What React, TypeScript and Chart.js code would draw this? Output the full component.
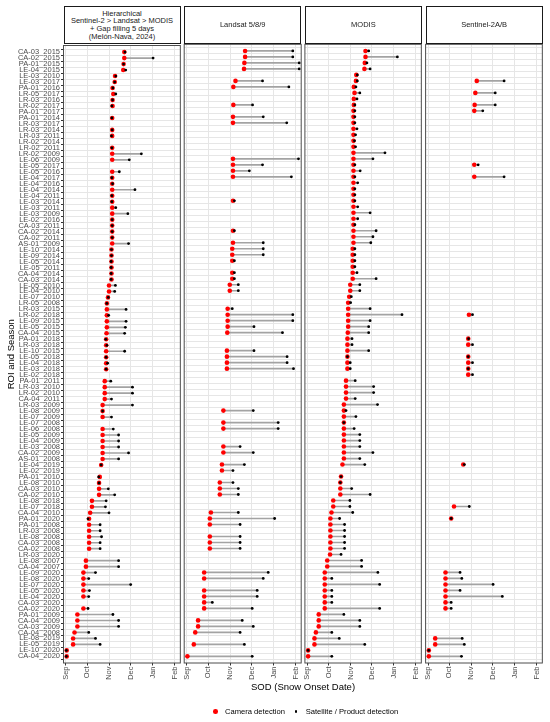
import React, { useEffect, useRef } from "react";
import { Chart, registerables } from "chart.js";

Chart.register(...registerables);

const FONT = "'Liberation Sans', Arial, Helvetica, sans-serif";

// ROI and season, top to bottom
const rowLabels = [
  "CA-03_2015", "CA-02_2015", "PA-01_2015", "LE-04_2015", "LE-03_2010", "LE-03_2017", "PA-01_2016", "LR-05_2017",
  "LR-03_2016", "LR-02_2017", "PA-01_2017", "PA-01_2014", "LR-03_2017", "LR-03_2014", "LR-03_2011", "LR-02_2014",
  "LR-02_2011", "LR-02_2009", "LE-06_2009", "LE-05_2017", "LE-05_2016", "LE-04_2017", "LE-04_2016", "LE-04_2014",
  "LE-04_2011", "LE-03_2014", "LE-03_2011", "LE-03_2009", "LE-02_2016", "CA-03_2011", "CA-02_2014", "CA-02_2011",
  "AS-01_2009", "LE-10_2014", "LE-09_2014", "LE-05_2014", "LE-05_2011", "CA-04_2014", "CA-03_2014", "LE-05_2010",
  "LE-04_2010", "LE-07_2010", "LR-05_2008", "LR-03_2015", "LR-02_2018", "LE-09_2015", "LE-05_2015", "CA-04_2015",
  "PA-01_2018", "LR-03_2018", "LE-10_2015", "LE-05_2018", "LE-04_2018", "LE-03_2018", "LE-02_2018", "PA-01_2011",
  "LR-03_2010", "LR-02_2010", "CA-04_2011", "LR-03_2009", "LE-08_2009", "LE-07_2009", "LE-07_2008", "LE-06_2008",
  "LE-05_2009", "LE-04_2009", "LE-03_2008", "CA-02_2009", "AS-01_2008", "LE-04_2019", "LE-02_2019", "PA-01_2010",
  "LE-08_2010", "CA-03_2010", "CA-02_2010", "LE-08_2018", "LE-07_2018", "CA-04_2010", "PA-01_2020", "PA-01_2008",
  "LR-03_2008", "LE-08_2008", "CA-03_2008", "CA-02_2008", "LR-03_2020", "LE-08_2007", "CA-04_2007", "LE-09_2020",
  "LE-08_2020", "LE-07_2020", "LE-05_2020", "LE-04_2020", "CA-03_2020", "CA-02_2020", "PA-01_2009", "CA-04_2009",
  "CA-03_2009", "CA-04_2008", "LE-08_2019", "LE-05_2019", "LE-10_2020", "CA-04_2020",
];

// Snow onset dates, in days after 1 September
const cameraSOD = [
  82, 82, 81, 80.5, 69, 68.5, 65.5, 66.5, 65.5, 65.5, 65, 65, 65, 65, 65, 65,
  65, 65, 65, 65, 65, 65, 65, 65, 65, 65, 65, 65, 65, 65, 65, 65,
  65, 64, 64, 64, 64, 64, 64, 60.5, 60.5, 59, 57.5, 57.5, 57.5, 57.5, 57.5, 57,
  56.5, 56.5, 56.5, 56.5, 56.5, 56.5, 56.5, 54.5, 54.5, 54.5, 54.5, 51.5, 51.5, 51.5, 51.5, 51.5,
  51.5, 51.5, 51.5, 51.5, 51.5, 49.5, 49.5, 47.5, 46.5, 46.5, 46.5, 36.5, 36.5, 34, 32.5, 32.5,
  32.5, 32.5, 32.5, 32.5, 32, 28, 28, 24.5, 24.5, 24.5, 24.5, 24.5, 24.5, 24.5, 16, 16,
  16, 12, 10, 10, 1, 1,
];

const hierarchicalSOD = [
  83, 122.5, 81, 84, 70, 68.5, 66, 70, 65.5, 64.5, null, 64.5, null, 65, 64, null,
  64.5, 106, 89, null, 75, 64.5, 65.5, 97, 64.5, 64.5, 70, 87, 65, 65, 65, 65,
  88, 64, 64, 63.5, 63.5, 63.5, 63.5, 69.5, 68.5, 59.5, 57.5, 84.5, 60, 84.5, 83.5, 82.5,
  56, 57.5, 82.5, 56.5, 58.5, 56.5, null, 63, 93.5, 93.5, 64, 93.5, 51.5, 64, null, 66.5,
  74, 74, 74, 88, 74, 49.5, null, 46, 46.5, 59.5, 68.5, 56.5, 55.5, 60.5, 31, 48,
  48, 50, 48, 48, null, 74, 74, 41.5, 32, 91, 33, 32, null, 31, 66, 74,
  74, 32, 41.5, 48, 0.5, 0.5,
];

const landsatSOD = [
  149, 149, 158, 158, null, 106.5, 143.5, null, null, 92.5, null, 107.5, 140.5, null, null, null,
  null, null, 157, 106.5, 88, 147, null, null, null, 67, null, null, null, null, 67, null,
  107.5, 107.5, 107.5, 67, null, 67, 67, 72.5, 72.5, null, null, 64, 149, 149, 94.5, 134.5,
  null, null, 94.5, 141, 141, 150, null, null, null, null, null, null, 93.5, null, 128.5, 128.5,
  null, null, 75, 93.5, null, 81, 65, null, 65, 72.5, 72.5, null, null, 72.5, 123.5, 75,
  null, 75, 75, 75, null, null, null, 114.5, 107.5, null, 99, 99, 36, 92, null, 78,
  93.5, 75, null, 81, null, 92,
];

const modisSOD = [
  86.5, 127, 84, 88.5, 70.5, 70.5, 68.5, 74, 70, 67, 67, 67, 67, 70, 68, 66.5,
  68, 109.5, 92.5, 67, 74.5, 67, 71, 67, 67, 67, 71, 88.5, 71, 67, 97, 92.5,
  89.5, 67, 67, 67, 67, 70, 97, 74, 74, 62, 61, 88.5, 133.5, 88.5, 86.5, 86.5,
  63, 63, 86.5, 56.5, 60.5, 60.5, null, 67.5, 93.5, 93.5, 67.5, 99, 54.5, 68.5, 51.5, 66,
  74, 74, 74, 92.5, 74, 81, null, 47.5, 46.5, 62.5, 88.5, 60, 60, 64, 45.5, 52.5,
  52.5, 52.5, 52.5, 52.5, 47.5, 76.5, 76.5, 99.5, 34.5, 102, 34.5, 34.5, 34.5, 102, 51.5, 74,
  74, 34.5, 45, 81, 1, 34.5,
];

const sentinel2SOD = [
  null, null, null, null, null, 107, null, 94.5, null, 94.5, 77, null, null, null, null, null,
  null, null, null, 70.5, null, 107, null, null, null, null, null, null, null, null, null, null,
  null, null, null, null, null, null, null, null, null, null, null, null, 62.5, null, null, null,
  57, 62.5, null, 56.5, 62.5, 56.5, 62.5, null, null, null, null, null, null, null, null, null,
  null, null, null, null, null, 51, null, null, null, null, null, null, 58, null, 32.5, null,
  null, null, null, null, null, null, null, 45, 47.5, 91.5, 45, 104.5, 32.5, 32.5, null, null,
  null, null, 48, 51, 1, 47,
];

const monthTicks = [0, 30, 61, 91, 122, 153];
const monthLabels = ["Sep", "Oct", "Nov", "Dec", "Jan", "Feb"];

const panelTitles = [
  ["Hierarchical", "Sentinel-2 > Landsat > MODIS", "+ Gap filling 5 days", "(Melón-Nava, 2024)"],
  ["Landsat 5/8/9"],
  ["MODIS"],
  ["Sentinel-2A/B"],
];
const panelSeries = [hierarchicalSOD, landsatSOD, modisSOD, sentinel2SOD];

const xTitle = "SOD (Snow Onset Date)";
const yTitle = "ROI and Season";
const legendCamera = "Camera detection";
const legendSatellite = "Satellite / Product detection";

// layout
const PANEL_LEFTS = [63.5, 184.2, 304.9, 425.6];
const PANEL_W = 117;
const PLOT_TOP = 44.3;
const PLOT_BOTTOM = 663;
const CANVAS_TOP = 40;
const X_AXIS_H = 22;
const CANVAS_H = Math.ceil(PLOT_BOTTOM - CANVAS_TOP + X_AXIS_H);
const X_MIN = -3.5;
const X_MAX = 160.8;

const framePlugin = {
  id: "panelFrame",
  afterDraw(chart: any) {
    const { ctx, chartArea: a } = chart;
    ctx.save();
    ctx.strokeStyle = "#4d4d4d";
    ctx.lineWidth = 1;
    ctx.strokeRect(a.left, a.top, a.right - a.left, a.bottom - a.top);
    ctx.restore();
  },
};

function Panel({ sat, plotLeft, showY }: { sat: (number | null)[]; plotLeft: number; showY: boolean }) {
  const ref = useRef<HTMLCanvasElement>(null);
  const canvasLeft = showY ? 0 : Math.floor(plotLeft) - 4;
  const padLeft = showY ? 0 : plotLeft - canvasLeft;
  const canvasW = Math.ceil(plotLeft + PANEL_W) + 4 - canvasLeft;
  const padRight = canvasW - (plotLeft - canvasLeft) - PANEL_W;
  const padTop = PLOT_TOP - CANVAS_TOP;
  const padBottom = CANVAS_H - (PLOT_BOTTOM - CANVAS_TOP) - X_AXIS_H;

  useEffect(() => {
    if (!ref.current) return;
    const idx = rowLabels.map((_, i) => i).filter((i) => sat[i] !== null && sat[i] !== undefined);
    const segData = idx.map((i) => ({ y: i, x: [cameraSOD[i], sat[i] as number] }));
    const camData = idx.map((i) => ({ x: cameraSOD[i], y: i }));
    const satData = idx.map((i) => ({ x: sat[i] as number, y: i }));

    const chart = new Chart(ref.current, {
      type: "bar",
      data: {
        datasets: [
          {
            type: "bar",
            data: segData as any,
            backgroundColor: "#a3a3a3",
            borderWidth: 0,
            barThickness: 1,
            order: 3,
            xAxisID: "x",
            yAxisID: "y",
          } as any,
          {
            type: "scatter",
            indexAxis: "x",
            data: camData,
            pointRadius: 2.3,
            pointBackgroundColor: "#ff0000",
            pointBorderWidth: 0,
            borderWidth: 0,
            order: 2,
            xAxisID: "x",
            yAxisID: "y",
          } as any,
          {
            type: "scatter",
            indexAxis: "x",
            data: satData,
            pointRadius: 1.4,
            pointBackgroundColor: "#000000",
            pointBorderWidth: 0,
            borderWidth: 0,
            order: 1,
            xAxisID: "x",
            yAxisID: "y",
          } as any,
        ],
      },
      options: {
        indexAxis: "y",
        animation: false,
        responsive: false,
        events: [],
        layout: { padding: { left: padLeft, right: padRight, top: padTop, bottom: padBottom } },
        plugins: { legend: { display: false }, tooltip: { enabled: false } },
        scales: {
          x: {
            type: "linear",
            min: X_MIN,
            max: X_MAX,
            bounds: "data",
            afterBuildTicks: (s: any) => {
              s.ticks = monthTicks.map((v) => ({ value: v }));
            },
            afterFit: (s: any) => {
              s.height = X_AXIS_H;
            },
            ticks: {
              autoSkip: false,
              minRotation: 90,
              maxRotation: 90,
              padding: 1,
              color: "#4d4d4d",
              font: { family: FONT, size: 7.5 },
              callback: (v: any) => {
                const k = monthTicks.indexOf(Number(v));
                return k >= 0 ? monthLabels[k] : "";
              },
            },
            grid: { color: "#e6e6e6", lineWidth: 1, tickLength: 2.5, tickColor: "#333333" },
            border: { display: false },
          },
          y: {
            type: "linear",
            min: -0.6,
            max: rowLabels.length - 1 + 0.6,
            reverse: true,
            bounds: "data",
            afterBuildTicks: (s: any) => {
              s.ticks = rowLabels.map((_, i) => ({ value: i }));
            },
            afterFit: (s: any) => {
              s.width = showY ? plotLeft : 0;
            },
            ticks: {
              display: showY,
              autoSkip: false,
              padding: 1,
              color: "#4d4d4d",
              font: { family: FONT, size: 7.5 },
              callback: (v: any) => rowLabels[Number(v)] ?? "",
            },
            grid: { color: "#e6e6e6", lineWidth: 1, drawTicks: showY, tickLength: 2.5, tickColor: "#333333" },
            border: { display: false },
            title: {
              display: showY,
              text: yTitle,
              color: "#000000",
              font: { family: FONT, size: 9.5 },
              padding: { top: 6, bottom: 0 },
            },
          },
        },
      } as any,
      plugins: [framePlugin],
    });
    return () => chart.destroy();
  }, []);

  return (
    <canvas
      ref={ref}
      width={canvasW}
      height={CANVAS_H}
      style={{ position: "absolute", left: canvasLeft, top: CANVAS_TOP, width: canvasW, height: CANVAS_H }}
    />
  );
}

function Strip({ lines, left }: { lines: string[]; left: number }) {
  return (
    <div
      style={{
        position: "absolute",
        left,
        top: 6,
        width: PANEL_W,
        height: PLOT_TOP - 6,
        boxSizing: "border-box",
        border: "1px solid #1a1a1a",
        background: "#ffffff",
        display: "flex",
        flexDirection: "column",
        alignItems: "center",
        justifyContent: "center",
        fontFamily: FONT,
        fontSize: 7.5,
        lineHeight: "7.8px",
        color: "#1a1a1a",
        textAlign: "center",
        whiteSpace: "nowrap",
      }}
    >
      {lines.map((l, i) => (
        <div key={i}>{l}</div>
      ))}
    </div>
  );
}

export default function App() {
  return (
    <div
      style={{
        position: "absolute",
        left: 0,
        top: 0,
        width: 550,
        height: 722,
        background: "#ffffff",
        overflow: "hidden",
        fontFamily: FONT,
      }}
    >
      {panelSeries.map((s, k) => (
        <Panel key={k} sat={s} plotLeft={PANEL_LEFTS[k]} showY={k === 0} />
      ))}
      {panelTitles.map((t, k) => (
        <Strip key={k} lines={t} left={PANEL_LEFTS[k]} />
      ))}
      <div
        style={{
          position: "absolute",
          left: PANEL_LEFTS[0],
          width: PANEL_LEFTS[3] + PANEL_W - PANEL_LEFTS[0],
          top: 681,
          textAlign: "center",
          fontSize: 9.5,
          lineHeight: "12px",
          color: "#000000",
        }}
      >
        {xTitle}
      </div>
      <div style={{ position: "absolute", left: 213.4, top: 709.4, width: 4.6, height: 4.6, borderRadius: "50%", background: "#ff0000" }} />
      <div
        style={{ position: "absolute", left: 225, top: 706.5, fontSize: 7.6, lineHeight: "10px", color: "#000000", whiteSpace: "nowrap" }}
      >
        {legendCamera}
      </div>
      <div style={{ position: "absolute", left: 294.6, top: 710.3, width: 2.8, height: 2.8, borderRadius: "50%", background: "#000000" }} />
      <div
        style={{ position: "absolute", left: 305.7, top: 706.5, fontSize: 7.6, lineHeight: "10px", color: "#000000", whiteSpace: "nowrap" }}
      >
        {legendSatellite}
      </div>
    </div>
  );
}
